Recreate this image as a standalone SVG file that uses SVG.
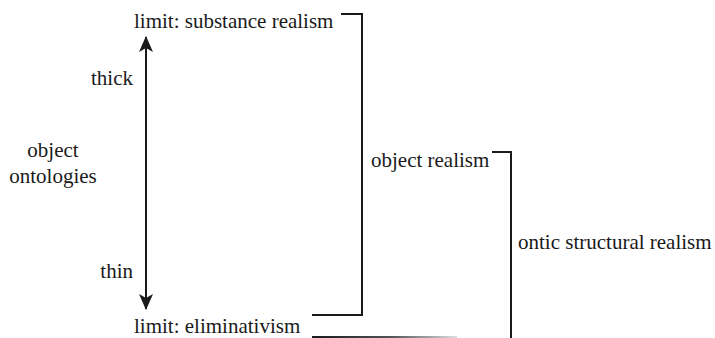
<svg xmlns="http://www.w3.org/2000/svg" width="715" height="338" viewBox="0 0 715 338">
<defs>
<marker id="ah" viewBox="0 0 16 14" refX="15" refY="7" markerWidth="16" markerHeight="14" markerUnits="userSpaceOnUse" orient="auto">
<path d="M0,0 L16,7 L0,14 L4,7 Z" fill="#1a1a1a"/>
</marker>
<linearGradient id="fade" x1="0" x2="1" y1="0" y2="0">
<stop offset="0" stop-color="#1a1a1a"/>
<stop offset="0.55" stop-color="#555"/>
<stop offset="1" stop-color="#ddd"/>
</linearGradient>
</defs>
<g id="connectors" fill="none" stroke="#1a1a1a" stroke-width="2">
<line x1="146" y1="170" x2="146" y2="37" marker-end="url(#ah)"/>
<line x1="146" y1="170" x2="146" y2="309" marker-end="url(#ah)"/>
<polyline points="341,14 362,14 362,315 312,315"/>
<polyline points="492,152 511,152 511,338"/>
<rect x="312" y="336" width="145" height="2" fill="url(#fade)" stroke="none"/>
</g>
<g font-family="'Liberation Serif', 'Times New Roman', serif" font-size="21" fill="#1a1a1a">
<g id="substance"><text x="134" y="28">limit: substance realism</text></g>
<g id="thick"><text x="133" y="85" text-anchor="end">thick</text></g>
<g id="ontologies"><text x="53" y="157" text-anchor="middle">object</text><text x="53" y="183" text-anchor="middle">ontologies</text></g>
<g id="objrealism"><text x="371" y="167">object realism</text></g>
<g id="osr"><text x="518" y="249">ontic structural realism</text></g>
<g id="thin"><text x="133" y="278" text-anchor="end">thin</text></g>
<g id="elim"><text x="134" y="333">limit: eliminativism</text></g>
</g>
</svg>
